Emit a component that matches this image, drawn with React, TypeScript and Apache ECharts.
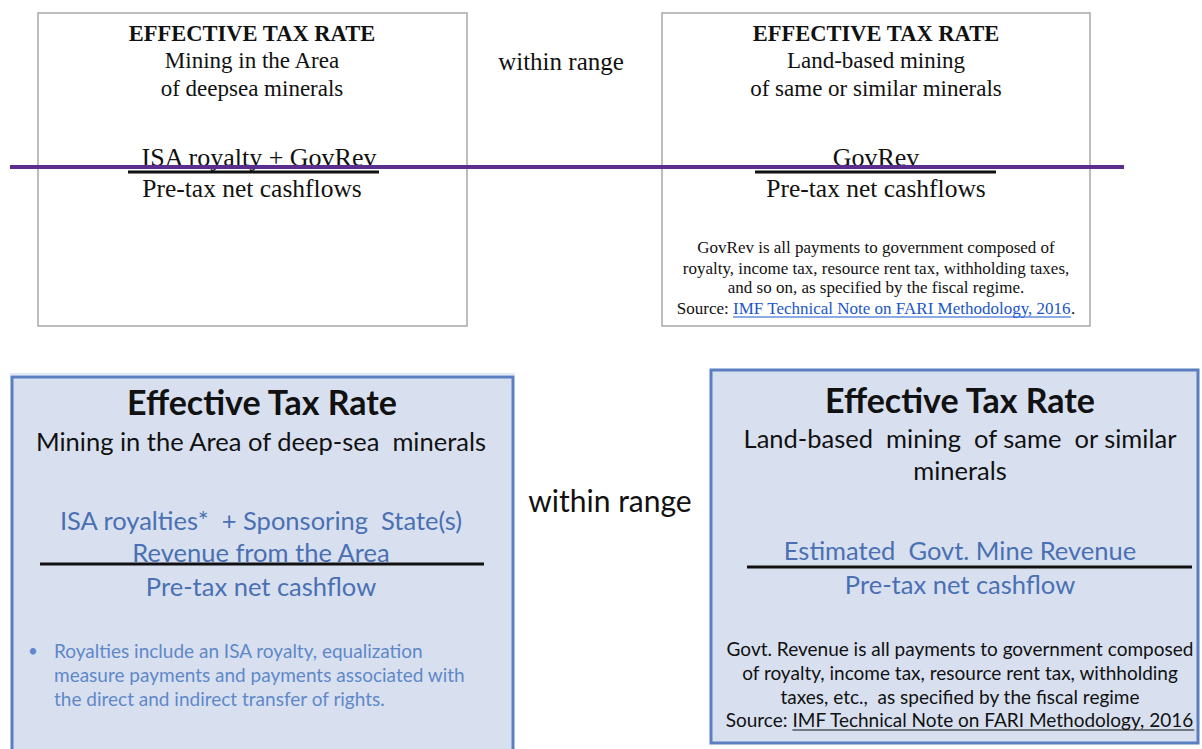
import React, { useEffect, useRef } from "react";
import * as echarts from "echarts";

const topLeftHead = ["EFFECTIVE TAX RATE", "Mining in the Area", "of deepsea minerals"];
const topLeftNum = "ISA royalty + GovRev";
const topDen = "Pre-tax net cashflows";
const topRightHead = ["EFFECTIVE TAX RATE", "Land-based mining", "of same or similar minerals"];
const topRightNum = "GovRev";
const topRightNotes = [
  "GovRev is all payments to government composed of",
  "royalty, income tax, resource rent tax, withholding taxes,",
  "and so on, as specified by the fiscal regime.",
];
const topSourceLabel = "Source: ";
const topSourceLink = "IMF Technical Note on FARI Methodology, 2016";
const withinRange = "within range";

const botTitle = "Effective Tax Rate";
const botLeftSub = ["Mining in the Area of deep-sea  minerals"];
const botLeftNum = ["ISA royalties*  + Sponsoring  State(s)", "Revenue from the Area"];
const botDen = "Pre-tax net cashflow";
const botLeftBullet = [
  "Royalties include an ISA royalty, equalization",
  "measure payments and payments associated with",
  "the direct and indirect transfer of rights.",
];
const botRightSub = ["Land-based  mining  of same  or similar", "minerals"];
const botRightNum = ["Estimated  Govt. Mine Revenue"];
const botRightNotes = [
  "Govt. Revenue is all payments to government composed",
  "of royalty, income tax, resource rent tax, withholding",
  "taxes, etc.,  as specified by the fiscal regime",
];
const botSourceLabel = "Source: ";
const botSourceLink = "IMF Technical Note on FARI Methodology, 2016";

const SERIF = "'Liberation Serif', 'DejaVu Serif', serif";
const SANS = "Lato, 'Open Sans', sans-serif";

function measure(text: string, font: string): number {
  const c = document.createElement("canvas").getContext("2d")!;
  c.font = font;
  return c.measureText(text).width;
}

function txt(text: string, x: number, y: number, size: number, opts: any = {}) {
  return {
    type: "text",
    x,
    y,
    style: {
      text,
      fontSize: size,
      fontFamily: opts.family || SERIF,
      fontWeight: opts.weight || "normal",
      fill: opts.color || "#111",
      align: opts.align || "center",
      verticalAlign: "middle",
    },
    silent: true,
  };
}

function hline(x1: number, x2: number, y: number, w: number, color: string) {
  return {
    type: "line",
    shape: { x1, y1: y, x2, y2: y },
    style: { stroke: color, lineWidth: w },
    silent: true,
  };
}

export default function App() {
  const ref = useRef<HTMLDivElement>(null);
  useEffect(() => {
    document.body.style.margin = "0";
    const chart = echarts.init(ref.current!, null, { renderer: "svg" });
    const els: any[] = [];

    // Top boxes
    els.push({ type: "rect", shape: { x: 38, y: 13, width: 429, height: 313 }, style: { fill: "#fff", stroke: "#a8a8a8", lineWidth: 1.5 } });
    els.push({ type: "rect", shape: { x: 662, y: 13, width: 428, height: 313 }, style: { fill: "#fff", stroke: "#a8a8a8", lineWidth: 1.5 } });

    const hy = [33, 60, 88];
    topLeftHead.forEach((t, i) => els.push(txt(t, 252, hy[i], i === 0 ? 22.5 : 23, { weight: i === 0 ? "bold" : "normal" })));
    els.push(txt(topLeftNum, 259, 157, 26));
    els.push(hline(128, 379, 172, 3, "#111"));
    els.push(txt(topDen, 252, 188, 25.5));

    topRightHead.forEach((t, i) => els.push(txt(t, 876, hy[i], i === 0 ? 22.5 : 23, { weight: i === 0 ? "bold" : "normal" })));
    els.push(txt(topRightNum, 876, 157, 26));
    els.push(hline(755, 996, 172, 3, "#111"));
    els.push(txt(topDen, 876, 188, 25.5));
    const ny = [247, 268, 287];
    topRightNotes.forEach((t, i) => els.push(txt(t, 876, ny[i], 17)));
    {
      const f = `17px ${SERIF}`;
      const w1 = measure(topSourceLabel, f);
      const w2 = measure(topSourceLink, f);
      const w3 = measure(".", f);
      const x0 = 876 - (w1 + w2 + w3) / 2;
      els.push(txt(topSourceLabel, x0, 308, 17, { align: "left" }));
      els.push(txt(topSourceLink, x0 + w1, 308, 17, { align: "left", color: "#1a56c8" }));
      els.push(txt(".", x0 + w1 + w2, 308, 17, { align: "left" }));
      els.push(hline(x0 + w1, x0 + w1 + w2, 317, 1, "#1a56c8"));
    }
    els.push(txt(withinRange, 561, 61, 25));

    // Purple line
    els.push(hline(10, 1124, 167, 4, "#5b2d8e"));

    // Bottom boxes
    els.push(hline(10, 515, 374, 2, "#e3e9f4"));
    els.push({ type: "rect", shape: { x: 12, y: 377, width: 501, height: 380 }, style: { fill: "#d8e0f0", stroke: "#5a7ebf", lineWidth: 3 } });
    els.push({ type: "rect", shape: { x: 711, y: 370, width: 487, height: 373 }, style: { fill: "#d8e0f0", stroke: "#5a7ebf", lineWidth: 3 } });

    const blue = "#4a70b3";
    const lblue = "#5f88c8";
    els.push(txt(botTitle, 262, 401, 34, { family: SANS, weight: "bold" }));
    botLeftSub.forEach((t, i) => els.push(txt(t, 261, 441 + i * 32, 25.5, { family: SANS })));
    botLeftNum.forEach((t, i) => els.push(txt(t, 261, 520 + i * 32, 25.5, { family: SANS, color: blue })));
    els.push(hline(40, 484, 564, 3, "#111"));
    els.push(txt(botDen, 261, 586, 25.5, { family: SANS, color: blue }));
    els.push(txt("•", 28, 650, 17, { family: SANS, color: lblue, align: "left" }));
    botLeftBullet.forEach((t, i) => els.push(txt(t, 54, 650 + i * 24, 19, { family: SANS, color: lblue, align: "left" })));

    els.push(txt(withinRange, 610, 500, 30, { family: SANS }));

    els.push(txt(botTitle, 960, 399, 34, { family: SANS, weight: "bold" }));
    botRightSub.forEach((t, i) => els.push(txt(t, 960, 438 + i * 32, 25.5, { family: SANS })));
    botRightNum.forEach((t) => els.push(txt(t, 960, 550, 25.5, { family: SANS, color: blue })));
    els.push(hline(747, 1192, 567, 3, "#111"));
    els.push(txt(botDen, 960, 584, 25.5, { family: SANS, color: blue }));
    const by = [648, 672, 696];
    botRightNotes.forEach((t, i) => els.push(txt(t, 960, by[i], 19, { family: SANS })));
    {
      const f = `19px ${SANS}`;
      const w1 = measure(botSourceLabel, f);
      const w2 = measure(botSourceLink, f);
      const x0 = 960 - (w1 + w2) / 2;
      els.push(txt(botSourceLabel, x0, 719, 19, { family: SANS, align: "left" }));
      els.push(txt(botSourceLink, x0 + w1, 719, 19, { family: SANS, align: "left" }));
      els.push(hline(x0 + w1, x0 + w1 + w2, 730, 1, "#111"));
    }

    chart.setOption({
      animation: false,
      backgroundColor: "#fff",
      graphic: { elements: els },
    });
    return () => chart.dispose();
  }, []);
  return <div ref={ref} style={{ width: 1202, height: 749 }} />;
}
